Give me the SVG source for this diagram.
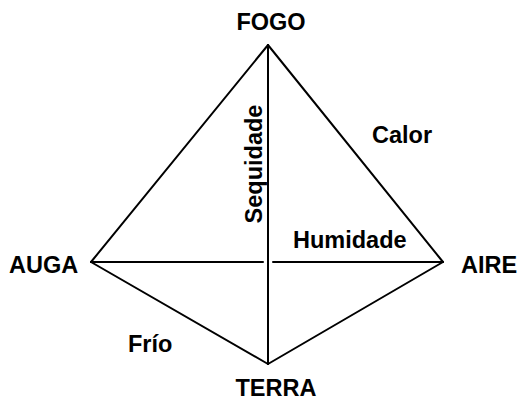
<svg xmlns="http://www.w3.org/2000/svg" width="518" height="401" viewBox="0 0 518 401">
<style>
.l{stroke:#000;stroke-width:2;fill:none;stroke-linecap:round}
.t{font-family:"Liberation Sans",Arial,sans-serif;font-weight:bold;font-size:23.5px;fill:#000}
</style>
<rect width="518" height="401" fill="#fff"/>
<g id="connectors">
<line class="l" x1="268" y1="45" x2="91" y2="262"/>
<line class="l" x1="268" y1="45" x2="443" y2="262"/>
<line class="l" x1="91" y1="262" x2="268" y2="364"/>
<line class="l" x1="443" y1="262" x2="268" y2="364"/>
<line class="l" x1="268" y1="45" x2="268" y2="364"/>
<line class="l" x1="91" y1="262" x2="263" y2="262"/>
<line class="l" x1="273" y1="262" x2="443" y2="262"/>
</g>
<g id="fogo"><text class="t" x="271" y="30" text-anchor="middle">FOGO</text></g>
<g id="auga"><text class="t" x="9" y="273">AUGA</text></g>
<g id="aire"><text class="t" x="461" y="273">AIRE</text></g>
<g id="terra"><text class="t" x="276" y="396" text-anchor="middle">TERRA</text></g>
<g id="labels">
<text class="t" x="372" y="143">Calor</text>
<text class="t" x="128" y="352">Frío</text>
<text class="t" x="293" y="248">Humidade</text>
<text class="t" transform="translate(262,164) rotate(-90)" text-anchor="middle">Sequidade</text>
</g>
</svg>
